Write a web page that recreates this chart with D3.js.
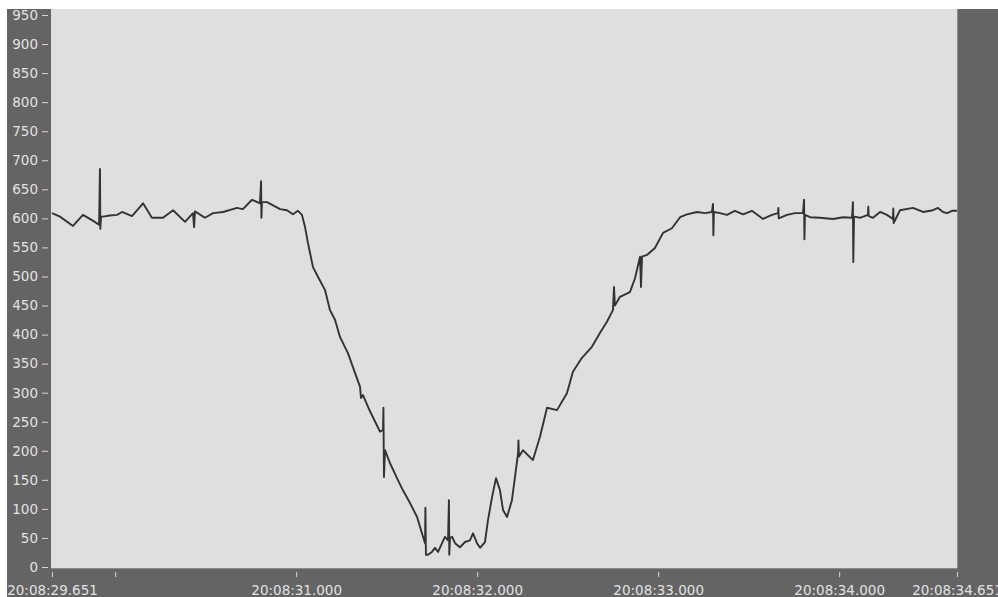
<!DOCTYPE html>
<html>
<head>
<meta charset="utf-8">
<script src="https://cdn.jsdelivr.net/npm/d3@7"></script>
<style>
  body { margin: 0; background: #fff; }
  svg { display: block; }
</style>
</head>
<body>
<svg id="chart" width="998" height="597"></svg>
<script>
// seconds after 20:08:00
const times = [
  29.651, 29.695, 29.767, 29.822, 29.872, 29.911, 29.916, 29.918, 29.922, 29.933,
  29.970, 30.010, 30.038, 30.093, 30.154, 30.203, 30.264, 30.320, 30.386, 30.430,
  30.436, 30.441, 30.496, 30.541, 30.596, 30.673, 30.706, 30.756, 30.800, 30.806,
  30.808, 30.811, 30.839, 30.911, 30.949, 30.982, 31.010, 31.032, 31.049, 31.065,
  31.093, 31.121, 31.159, 31.187, 31.215, 31.242, 31.286, 31.325, 31.353, 31.358,
  31.369, 31.408, 31.463, 31.480, 31.482, 31.485, 31.491, 31.518, 31.557, 31.590,
  31.629, 31.668, 31.695, 31.712, 31.714, 31.717, 31.728, 31.750, 31.767, 31.784,
  31.806, 31.822, 31.839, 31.844, 31.846, 31.850, 31.861, 31.878, 31.905, 31.933,
  31.960, 31.977, 31.999, 32.016, 32.043, 32.060, 32.082, 32.104, 32.126, 32.143,
  32.165, 32.192, 32.209, 32.226, 32.228, 32.231, 32.253, 32.308, 32.347, 32.386,
  32.441, 32.496, 32.529, 32.579, 32.634, 32.679, 32.717, 32.750, 32.756, 32.761,
  32.789, 32.844, 32.872, 32.900, 32.905, 32.911, 32.938, 32.982, 33.027, 33.076,
  33.121, 33.159, 33.215, 33.259, 33.297, 33.303, 33.305, 33.308, 33.342, 33.380,
  33.424, 33.469, 33.518, 33.579, 33.629, 33.662, 33.664, 33.666, 33.712, 33.756,
  33.800, 33.806, 33.808, 33.811, 33.839, 33.894, 33.966, 34.021, 34.071, 34.076,
  34.078, 34.082, 34.115, 34.159, 34.161, 34.163, 34.187, 34.226, 34.264, 34.297,
  34.299, 34.301, 34.336, 34.408, 34.463, 34.518, 34.546, 34.574, 34.596, 34.623,
  34.651
];
const values = [
  609, 603, 587, 606, 597, 589, 685, 582, 603, 603,
  605, 606, 611, 604, 626, 601, 601, 614, 594, 609,
  585, 612, 601, 609, 611, 618, 616, 632, 626, 664,
  601, 628, 628, 616, 614, 607, 613, 606, 585, 558,
  516, 499, 477, 442, 425, 396, 368, 334, 310, 291,
  296, 268, 233, 236, 274, 155, 201, 179, 153, 132,
  110, 86, 58, 41, 102, 21, 21, 26, 33, 26,
  41, 52, 46, 115, 21, 50, 52, 41, 34, 43,
  46, 58, 41, 33, 43, 81, 120, 153, 132, 98,
  86, 115, 155, 196, 218, 190, 201, 184, 224, 274,
  270, 299, 336, 360, 379, 403, 422, 442, 482, 450,
  465, 473, 497, 534, 482, 534, 537, 549, 575, 583,
  602, 607, 611, 609, 611, 625, 571, 611, 609, 606,
  613, 607, 613, 599, 606, 609, 618, 600, 606, 609,
  609, 632, 564, 606, 602, 601, 599, 602, 601, 628,
  525, 603, 601, 606, 620, 604, 601, 611, 606, 599,
  617, 592, 614, 618, 611, 614, 618, 611, 609, 613,
  613
];

const yTicks = d3.range(0, 951, 50);
const xTicks = [29.651, 30, 31, 32, 33, 34, 34.651];
const xTickLabels = ["20:08:29.651", "", "20:08:31.000", "20:08:32.000", "20:08:33.000", "20:08:34.000", "20:08:34.651"];

const svg = d3.select("#chart");
const plot = { left: 51, top: 9, right: 957, bottom: 568 };

const x = d3.scaleLinear().domain([29.651, 34.651]).range([52, 957]);
const y = d3.scaleLinear().domain([0, 950]).range([567, 15]);

// dark frame
svg.append("rect")
    .attr("x", 7).attr("y", 9)
    .attr("width", 998 - 7).attr("height", 597 - 9)
    .attr("fill", "#646464");

svg.append("rect")
    .attr("x", plot.left).attr("y", plot.top)
    .attr("width", plot.right - plot.left)
    .attr("height", plot.bottom - plot.top)
    .attr("fill", "#dfdfdf");

svg.append("line")
    .attr("x1", plot.left).attr("x2", plot.right)
    .attr("y1", plot.bottom + 0.5).attr("y2", plot.bottom + 0.5)
    .attr("stroke", "#8c8c8c");
svg.append("line")
    .attr("x1", plot.right + 0.5).attr("x2", plot.right + 0.5)
    .attr("y1", plot.top).attr("y2", plot.bottom)
    .attr("stroke", "#8c8c8c");

const yAxis = svg.append("g")
    .attr("transform", "translate(48,0)")
    .call(d3.axisLeft(y).tickValues(yTicks).tickSize(6).tickPadding(4));

const xAxis = svg.append("g")
    .attr("transform", "translate(0,572)")
    .call(d3.axisBottom(x).tickValues(xTicks).tickSize(5).tickPadding(8)
        .tickFormat((d, i) => xTickLabels[i]));

[yAxis, xAxis].forEach(ax => {
    ax.select(".domain").remove();
    ax.selectAll(".tick line").attr("stroke", "#d6d6d6");
    ax.selectAll(".tick text")
        .attr("fill", "#e2e2e2")
        .attr("font-family", "DejaVu Sans, Verdana, sans-serif")
        .attr("font-size", 13.5);
});

const pts = times.map((t, i) => [t, values[i]]);

svg.append("path")
    .datum(pts)
    .attr("fill", "none")
    .attr("stroke", "#333")
    .attr("stroke-width", 1.9)
    .attr("stroke-linejoin", "round")
    .attr("d", d3.line().x(d => x(d[0])).y(d => y(d[1])));
</script>
</body>
</html>
